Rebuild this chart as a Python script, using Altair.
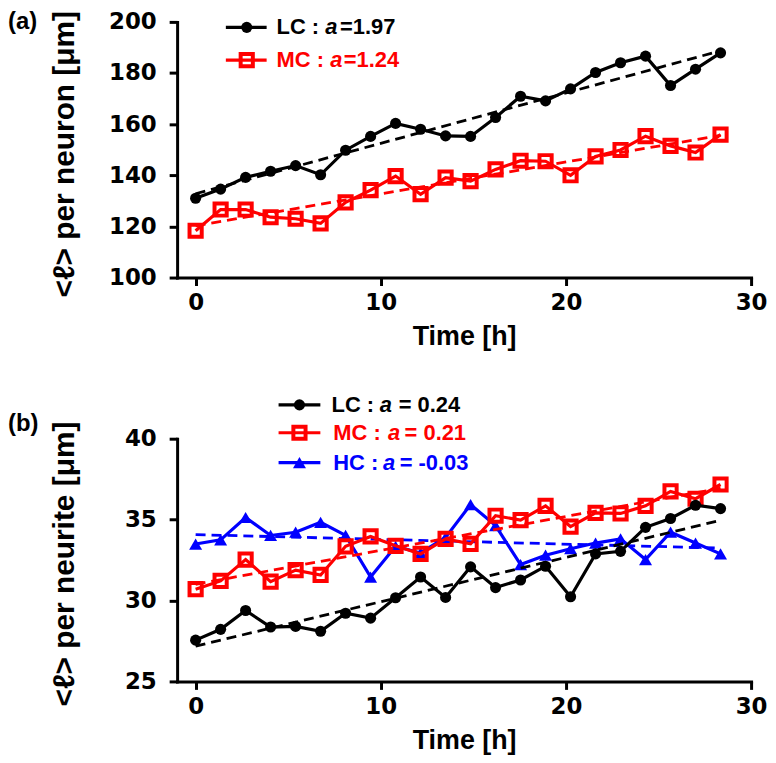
import altair as alt
import pandas as pd

# ---------------- data ----------------
time_h = [0.0, 1.35, 2.7, 4.05, 5.4, 6.75, 8.1, 9.45, 10.8, 12.15, 13.5, 14.85,
          16.2, 17.55, 18.9, 20.25, 21.6, 22.95, 24.3, 25.65, 27.0, 28.35]

neuron_lc = [131.0, 134.6, 139.2, 141.6, 143.8, 140.2, 149.8, 155.2, 160.3, 158.0, 155.4, 155.2,
             162.6, 170.9, 169.1, 173.8, 180.2, 184.0, 186.6, 175.1, 181.5, 187.9]
neuron_mc = [118.3, 126.6, 126.6, 123.6, 123.0, 121.2, 129.4, 134.2, 139.7, 132.6, 139.1, 137.7,
             142.3, 145.7, 145.5, 140.0, 147.4, 149.9, 155.3, 151.5, 148.9, 155.9]

neurite_lc = [27.55, 28.22, 29.38, 28.36, 28.40, 28.10, 29.21, 28.91, 30.17, 31.45, 30.19, 32.08,
              30.80, 31.27, 32.12, 30.23, 32.88, 33.04, 34.52, 35.07, 35.89, 35.68]
neurite_mc = [30.70, 31.21, 32.53, 31.17, 31.88, 31.58, 33.35, 33.96, 33.38, 32.88, 33.81, 33.50,
              35.24, 34.97, 35.85, 34.57, 35.42, 35.38, 35.85, 36.74, 36.29, 37.17]
neurite_hc = [33.49, 33.75, 35.13, 34.02, 34.22, 34.83, 34.02, 31.45, 33.35, 32.94, 33.90, 35.93,
              34.63, 32.22, 32.80, 33.20, 33.55, 33.81, 32.53, 34.22, 33.55, 32.88]

series_names = ["LC", "MC", "HC"]
series_colors = ["#000000", "#ff0000", "#0000ff"]
series_kinds = ["circle", "square", "triangle"]
slopes_a = ["=1.97", "=1.24"]
slopes_b = ["= 0.24", "= 0.21", "= -0.03"]

x_ticks = [0, 10, 20, 30]
ya_ticks = [100, 120, 140, 160, 180, 200]
yb_ticks = [25, 30, 35, 40]

title_a = "<\u2113> per neuron [\u03bcm]"
title_b = "<\u2113> per neurite [\u03bcm]"
x_title = "Time [h]"

# ---------------- styling ----------------
TXT = "Liberation Sans, Arial, Helvetica, sans-serif"
NUM = "DejaVu Sans, Verdana, sans-serif"
W = 577
HA = 257
HB = 244
LEG_FS = 22
leg_df = pd.DataFrame({"k": [0]})


def marker_style(kind, color):
    if kind == "circle":
        return dict(shape="circle", filled=True, size=125, opacity=1, color=color)
    if kind == "square":
        return dict(shape="square", filled=False, size=150, strokeWidth=4, opacity=1, color=color)
    return dict(shape="triangle-up", filled=True, size=170, opacity=1, color=color)


def xenc():
    return alt.X("t:Q", scale=alt.Scale(domain=[-1, 30], nice=False, zero=False),
                 axis=alt.Axis(values=x_ticks, title=x_title, labelFlush=False,
                               labelPadding=6, titlePadding=9, format="d"))


def yenc(dom, ticks):
    return alt.Y("v:Q", scale=alt.Scale(domain=dom, nice=False, zero=False),
                 axis=alt.Axis(values=ticks, title=None, labelPadding=13, format="d"))


def series_layers(values, color, kind, dom, ticks):
    df = pd.DataFrame({"t": time_h, "v": values})
    base = alt.Chart(df).encode(x=xenc(), y=yenc(dom, ticks))
    fit = base.transform_regression("t", "v").mark_line(
        color=color, strokeWidth=2.8, strokeDash=[10, 6])
    line = base.mark_line(color=color, strokeWidth=3.2)
    pts = base.mark_point(**marker_style(kind, color))
    return [fit, line, pts]


def legend_entry(y, xl0, xl1, xm, kind, color, name, xn, xa, eq, xe):
    c = alt.Chart(leg_df)
    rule = c.mark_rule(color=color, strokeWidth=3.2).encode(
        x=alt.value(xl0), x2=alt.value(xl1), y=alt.value(y))
    mk = c.mark_point(**marker_style(kind, color)).encode(x=alt.value(xm), y=alt.value(y))
    common = dict(align="left", baseline="middle", font=TXT, fontSize=LEG_FS,
                  fontWeight="bold", color=color)
    t1 = c.mark_text(text=name + " :", **common).encode(x=alt.value(xn), y=alt.value(y))
    t2 = c.mark_text(text="a", fontStyle="italic", **common).encode(x=alt.value(xa), y=alt.value(y))
    t3 = c.mark_text(text=eq, **common).encode(x=alt.value(xe), y=alt.value(y))
    return [rule, mk, t1, t2, t3]


def label_layers(panel_txt, py, ytitle, ty):
    c = alt.Chart(leg_df)
    lab = c.mark_text(text=panel_txt, align="left", baseline="middle", font=TXT,
                      fontSize=24, fontWeight="bold", color="black").encode(
        x=alt.value(-170), y=alt.value(py))
    yt = c.mark_text(text=ytitle, angle=270, align="center", baseline="middle", font=TXT,
                     fontSize=30, fontWeight="bold", color="black").encode(
        x=alt.value(-113), y=alt.value(ty))
    return [lab, yt]


# ---------------- panel (a) ----------------
dom_a = [100, 200]
layers_a = []
for vals, col, kind in [(neuron_lc, series_colors[0], series_kinds[0]),
                        (neuron_mc, series_colors[1], series_kinds[1])]:
    layers_a += series_layers(vals, col, kind, dom_a, ya_ticks)
legend_a = [
    (5.5, 49, 90, 70, 100, 149, 163.7),
    (38.5, 49, 90, 70, 100, 154, 167.5),
]
for i, (y, xl0, xl1, xm, xn, xa, xe) in enumerate(legend_a):
    layers_a += legend_entry(y, xl0, xl1, xm, series_kinds[i], series_colors[i],
                             series_names[i], xn, xa, slopes_a[i], xe)
layers_a += label_layers("(a)", 0.5, title_a, 133)
panel_a = alt.layer(*layers_a).properties(width=W, height=HA)

# ---------------- panel (b) ----------------
dom_b = [25, 40]
layers_b = []
for vals, col, kind in [(neurite_hc, series_colors[2], series_kinds[2]),
                        (neurite_mc, series_colors[1], series_kinds[1]),
                        (neurite_lc, series_colors[0], series_kinds[0])]:
    layers_b += series_layers(vals, col, kind, dom_b, yb_ticks)
legend_b = [
    (-34, 102, 144, 123, 155.3, 203.7, 222.7),
    (-6, 102, 144, 123, 157, 212, 228.7),
    (24, 102, 144, 123, 157, 207, 223.7),
]
for i, (y, xl0, xl1, xm, xn, xa, xe) in enumerate(legend_b):
    layers_b += legend_entry(y, xl0, xl1, xm, series_kinds[i], series_colors[i],
                             series_names[i], xn, xa, slopes_b[i], xe)
layers_b += label_layers("(b)", -15, title_b, 126)
panel_b = alt.layer(*layers_b).properties(width=W, height=HB)

chart = alt.vconcat(panel_a, panel_b, spacing=45).properties(padding=0)
chart = chart.configure_view(strokeWidth=0).configure_axis(
    domainColor="black", domainWidth=3, domainCap="square",
    tickColor="black", tickWidth=3, tickSize=8,
    labelFont=NUM, labelFontSize=23, labelFontWeight="bold", labelColor="black",
    titleFont=TXT, titleFontSize=27, titleFontWeight="bold", titleColor="black",
    grid=False)

chart.save("out.html", embed_options={"renderer": "svg", "actions": False})
